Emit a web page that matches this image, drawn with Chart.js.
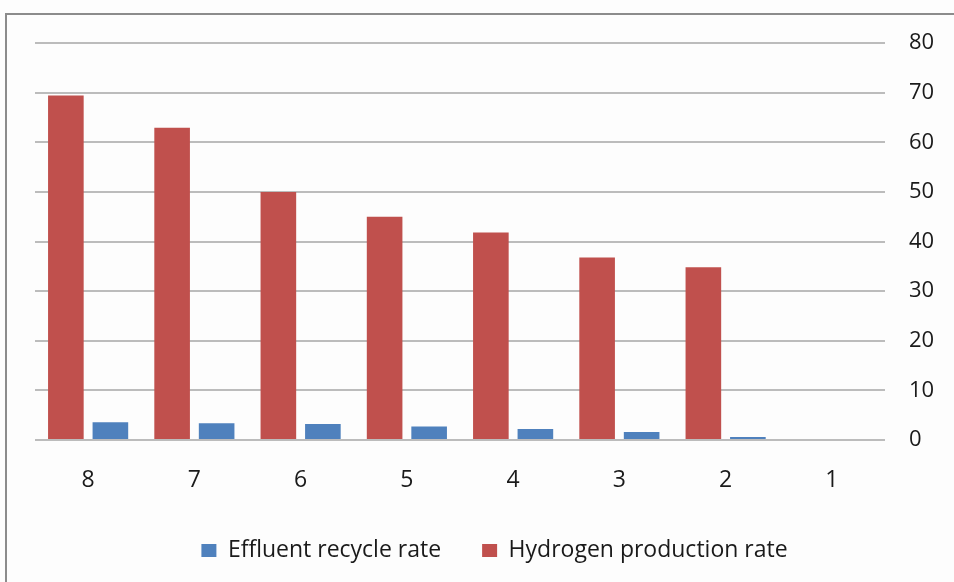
<!DOCTYPE html>
<html>
<head>
<meta charset="utf-8">
<script src="https://cdn.jsdelivr.net/npm/chart.js@4"></script>
<style>
    html, body { margin: 0; padding: 0; background: #fdfdfd; overflow: hidden; }
    #wrap { position: relative; width: 954px; height: 582px; }
    #frame {
        position: absolute; left: 5px; top: 13px; width: 1000px; height: 640px;
        border-left: 2px solid #8c8c8c; border-top: 2px solid #8c8c8c;
    }
    #chart { position: absolute; left: 0; top: 0; }
</style>
</head>
<body>
<div id="wrap">
    <div id="frame"></div>
    <canvas id="chart" width="954" height="582"></canvas>
</div>
<script>
const categories = ['8', '7', '6', '5', '4', '3', '2', '1'];
const hydrogenRate = [69.4, 62.9, 50, 45, 41.8, 36.8, 34.8, 0];
const effluentRate = [3.6, 3.4, 3.2, 2.7, 2.2, 1.6, 0.6, 0];
const yTicks = [0, 10, 20, 30, 40, 50, 60, 70, 80];

document.addEventListener('DOMContentLoaded', () => {
    const ctx = document.getElementById('chart');
    const textColor = '#1a1a1a';

    new Chart(ctx, {
        type: 'bar',
        data: {
            labels: categories,
            datasets: [
                {
                    label: 'Hydrogen production rate',
                    data: hydrogenRate,
                    backgroundColor: '#c0504d',
                    borderWidth: 0
                },
                {
                    label: 'Effluent recycle rate',
                    data: effluentRate,
                    backgroundColor: '#4f81bd',
                    borderWidth: 0
                }
            ]
        },
        options: {
            responsive: false,
            animation: false,
            // red bar first, blue second, with a clear gap between them
            categoryPercentage: 0.838,
            barPercentage: 0.8,
            layout: { padding: { left: 35, top: 43, right: 0, bottom: 10 } },
            plugins: {
                tooltip: { enabled: false },
                legend: {
                    position: 'bottom',
                    reverse: true,
                    labels: {
                        boxWidth: 15,
                        boxHeight: 13,
                        padding: 41,
                        color: textColor,
                        font: { family: 'Open Sans', size: 23 }
                    }
                }
            },
            scales: {
                x: {
                    grid: { display: false, drawTicks: false },
                    border: { display: false },
                    ticks: {
                        padding: 27,
                        color: textColor,
                        font: { family: 'Open Sans', size: 23 }
                    },
                    afterFit: (scale) => { scale.height = 58; }
                },
                y: {
                    position: 'right',
                    min: 0,
                    max: 80,
                    afterBuildTicks: (scale) => { scale.ticks = yTicks.map(v => ({ value: v })); },
                    grid: { color: '#bcbcbc', lineWidth: 2, drawTicks: false },
                    border: { display: false },
                    ticks: {
                        padding: 24,
                        color: textColor,
                        font: { family: 'Open Sans', size: 22 }
                    },
                    afterFit: (scale) => { scale.width = 69; }
                }
            }
        }
    });
});
</script>
</body>
</html>
